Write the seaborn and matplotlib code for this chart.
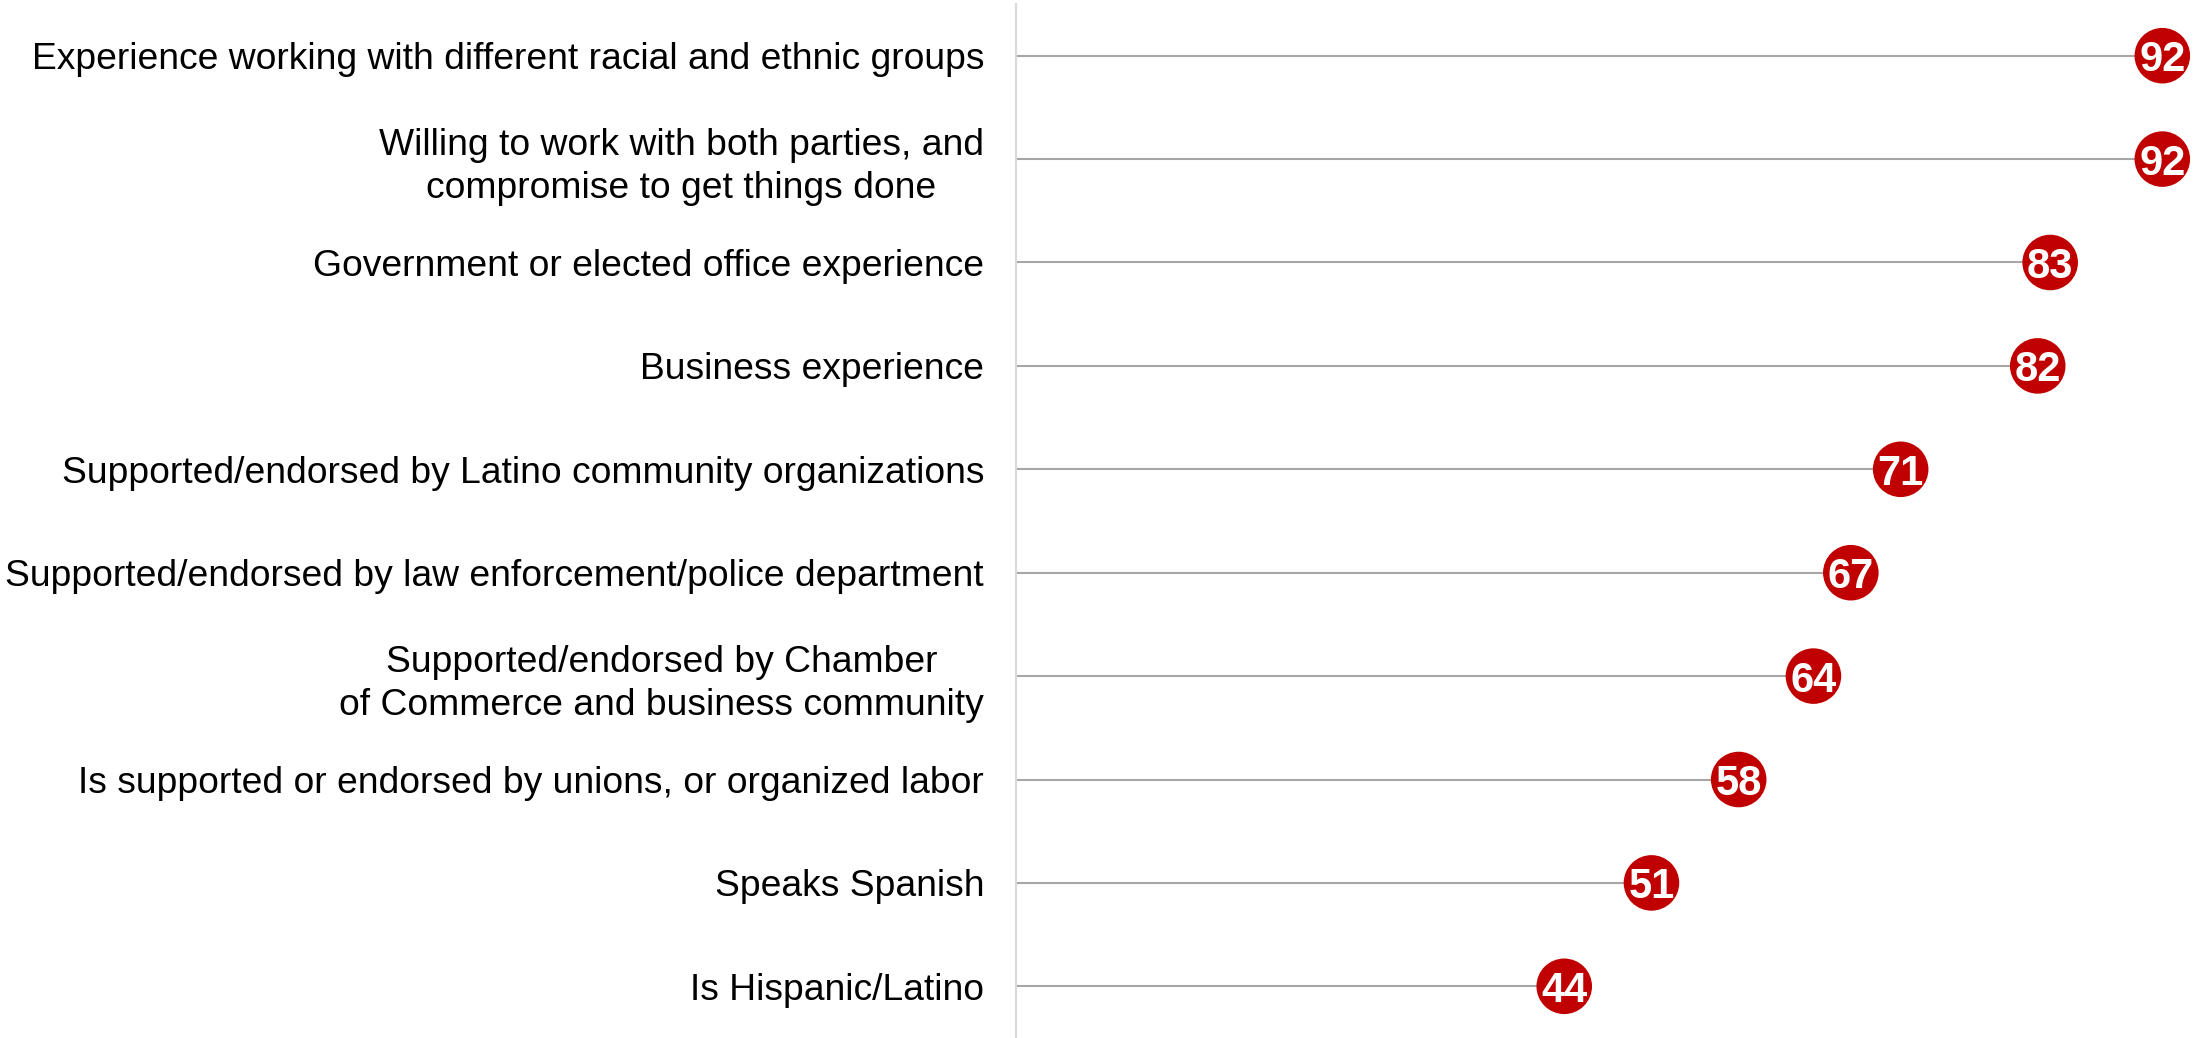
import matplotlib
matplotlib.use("Agg")
import matplotlib.pyplot as plt
import seaborn as sns
import pandas as pd
import numpy as np

categories = [
    "Experience working with different racial and ethnic groups",
    "Willing to work with both parties, and\ncompromise to get things done",
    "Government or elected office experience",
    "Business experience",
    "Supported/endorsed by Latino community organizations",
    "Supported/endorsed by law enforcement/police department",
    "Supported/endorsed by Chamber\nof Commerce and business community",
    "Is supported or endorsed by unions, or organized labor",
    "Speaks Spanish",
    "Is Hispanic/Latino",
]
values = [92, 92, 83, 82, 71, 67, 64, 58, 51, 44]

sns.set_theme(style="white")
plt.rcParams['font.family'] = ['Liberation Sans', 'DejaVu Sans']

df = pd.DataFrame({"label": categories, "value": values, "pos": np.arange(len(categories))})

W, H = 2202, 1038
fig = plt.figure(figsize=(W / 100, H / 100), dpi=100)
ax = fig.add_axes([1016 / W, 0, (W - 1016) / W, 1034 / H])

ax.hlines(df["pos"], 0, df["value"], color="#A6A6A6", linewidth=1.5, zorder=1)
sns.scatterplot(data=df, x="value", y="pos", ax=ax, s=1600, color="#C00000",
                edgecolor="none", zorder=3, legend=False)
for _, r in df.iterrows():
    ax.text(r["value"], r["pos"], f"{r['value']}", color="white", fontsize=30,
            fontweight="bold", ha="center", va="center_baseline", zorder=4)

ax.set_xlim(0, (W - 1016) / 12.46)
ax.set_ylim(9.5, -0.5)
ax.set_yticks(df["pos"])
ax.set_yticklabels(df["label"], fontsize=26.8, color="black",
                   multialignment="center", linespacing=1.3)
ax.tick_params(axis="y", length=0, pad=23)
ax.set_xticks([])
ax.set_xlabel("")
ax.set_ylabel("")
for s in ["top", "right", "bottom"]:
    ax.spines[s].set_visible(False)
ax.spines["left"].set_color("#D9D9D9")
ax.spines["left"].set_linewidth(1.5)
ax.set_facecolor("white")
fig.patch.set_facecolor("white")

fig.savefig("out.png", dpi=100, facecolor="white")
